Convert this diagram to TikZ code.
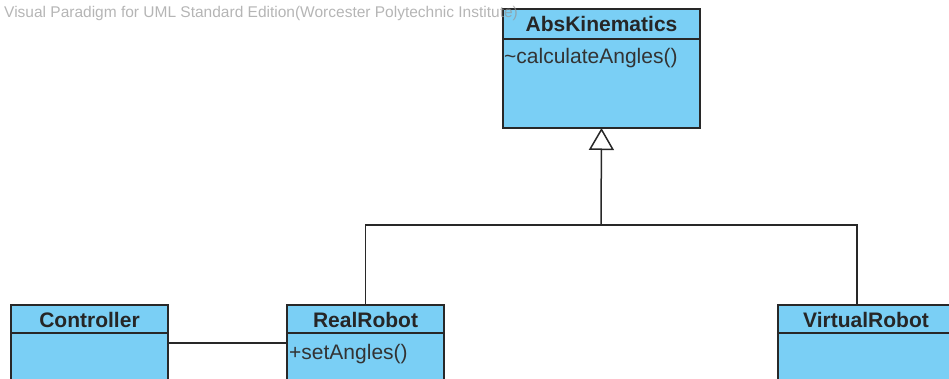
\documentclass[tikz,border=0pt]{standalone}
\usepackage{fontspec}
\setmainfont{Liberation Sans}
\usetikzlibrary{arrows.meta}
\definecolor{clsfill}{RGB}{122,207,245}
\definecolor{clsline}{RGB}{40,40,40}
\definecolor{wm}{RGB}{150,150,150}
\begin{document}
\begin{tikzpicture}[x=1pt,y=-1pt,
  clsbox/.style={draw=clsline,fill=clsfill,line width=1.8pt,minimum width=#1,inner sep=0pt,outer sep=0pt,rectangle},
  hdr/.style={font=\fontsize{21}{23}\selectfont\bfseries,text=black!85},
  op/.style={font=\fontsize{21}{23}\selectfont,text=black!80,anchor=west,inner sep=0pt},
  conn/.style={draw=clsline,line width=1.5pt}]
\useasboundingbox (0,0) rectangle (949,379);
\clip (0,0) rectangle (949,379);
% AbsKinematics
\node[clsbox=197pt,minimum height=119pt] (abs) at (601.5,68.5) {};
\draw[conn,line width=1.8pt] (503,39) -- (700,39);
\node[hdr] (absn) at (601.5,24) {AbsKinematics};
\node[op] (absop) at (504,58) {\textasciitilde calculateAngles()};
% Controller
\node[clsbox=157pt,minimum height=100pt] (ctl) at (89.5,355) {};
\draw[conn,line width=1.8pt] (11,333) -- (168,333);
\node[hdr] (ctln) at (89.5,320) {Controller};
% RealRobot
\node[clsbox=157pt,minimum height=100pt] (rr) at (365.5,355) {};
\draw[conn,line width=1.8pt] (287,333) -- (444,333);
\node[hdr] (rrn) at (365.5,320) {RealRobot};
\node[op] (rrop) at (289,354) {+setAngles()};
% VirtualRobot
\node[clsbox=180pt,minimum height=100pt] (vr) at (868,355) {};
\draw[conn,line width=1.8pt] (778,333) -- (958,333);
\node[hdr] (vrn) at (866,320) {VirtualRobot};
% connectors
\coordinate (j) at (601,225);
\draw[conn] (rr.north) |- (j);
\draw[conn] (vr.north -| 857,0) |- (j);
\draw[conn,-{Triangle[open,length=22pt,width=25pt,fill=white]}] (j) -- (abs.south);
\draw[conn] (ctl.east |- 0,343) -- (rr.west |- 0,343);
% watermark
\node[anchor=west,text=wm,text opacity=0.7,font=\fontsize{15.5}{17}\selectfont,inner sep=0pt] (wmk) at (4,13) {Visual Paradigm for UML Standard Edition(Worcester Polytechnic Institute)};
\end{tikzpicture}
\end{document}
